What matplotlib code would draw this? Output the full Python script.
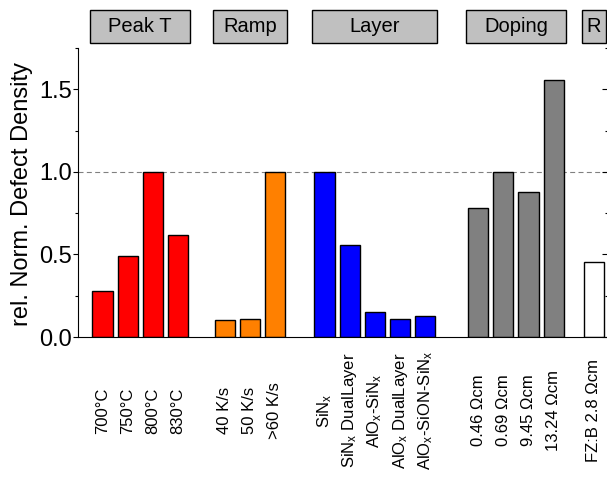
import matplotlib
matplotlib.use("Agg")
import matplotlib.pyplot as plt
from matplotlib.patches import Rectangle
from matplotlib.ticker import MultipleLocator
import matplotlib.transforms as mtransforms
import numpy as np

plt.rcParams['font.family'] = ['Liberation Sans', 'DejaVu Sans']
plt.rcParams['mathtext.fontset'] = 'custom'
plt.rcParams['mathtext.rm'] = 'Liberation Sans'

# groups of samples, one colour per group
group_names = ['Peak T', 'Ramp', 'Layer', 'Doping', 'R']

peak_labels = ['700°C', '750°C', '800°C', '830°C']
peak_vals = [0.28, 0.49, 1.0, 0.62]

ramp_labels = ['40 K/s', '50 K/s', '>60 K/s']
ramp_vals = [0.10, 0.11, 1.0]

layer_labels = [r'SiN$\mathregular{_x}$',
                r'SiN$\mathregular{_x}$ DualLayer',
                r'AlO$\mathregular{_x}$-SiN$\mathregular{_x}$',
                r'AlO$\mathregular{_x}$ DualLayer',
                r'AlO$\mathregular{_x}$-SiON-SiN$\mathregular{_x}$']
layer_vals = [1.0, 0.557, 0.15, 0.107, 0.127]

doping_labels = ['0.46 Ωcm', '0.69 Ωcm', '9.45 Ωcm', '13.24 Ωcm']
doping_vals = [0.78, 1.0, 0.878, 1.555]

ref_labels = ['FZ:B 2.8 Ωcm']
ref_vals = [0.457]

all_labels = [peak_labels, ramp_labels, layer_labels, doping_labels, ref_labels]
all_vals = [peak_vals, ramp_vals, layer_vals, doping_vals, ref_vals]
colors = ['#ff0000', '#ff8000', '#0000ff', '#808080', '#ffffff']
group_start = [0, 4.85, 8.82, 14.92, 19.51]
bar_w = 0.8

fig = plt.figure(figsize=(6.07, 4.79), dpi=100)
ax = fig.add_axes([78 / 607, 142 / 479, 531 / 607, 289 / 479])

ax.axhline(1.0, color='#808080', lw=0.8, ls=(0, (4.5, 3)), zorder=1)

ticks, ticklabels = [], []
trans = mtransforms.blended_transform_factory(ax.transData, ax.transAxes)
for name, labs, vals, col, x0 in zip(group_names, all_labels, all_vals, colors, group_start):
    x = x0 + np.arange(len(vals))
    ax.bar(x, vals, width=bar_w, color=col, edgecolor='black', lw=1.0, zorder=2)
    ticks.extend(x)
    ticklabels.extend(labs)
    # header box over each group
    left = x[0] - bar_w / 2 - 0.08
    right = x[-1] + bar_w / 2 + 0.08
    ax.add_patch(Rectangle((left, 1.017), right - left, 0.114, transform=trans,
                           facecolor='#c0c0c0', edgecolor='black', lw=1.0,
                           clip_on=False, zorder=3))
    ax.text((left + right) / 2, 1.074, name, transform=trans, ha='center',
            va='center', fontsize=14.5, clip_on=False, zorder=4)

ax.set_xlim(-0.973, 20.12)
ax.set_ylim(0, 1.75)
ax.set_xticks(ticks)
ax.set_xticklabels(ticklabels, rotation=90, fontsize=12)
for lab in ax.get_xticklabels():
    lab.set_va('center')
    lab.set_ha('center')
ax.tick_params(axis='x', length=0, pad=53)

ax.yaxis.set_major_locator(MultipleLocator(0.5))
ax.yaxis.set_minor_locator(MultipleLocator(0.25))
ax.set_yticks([0, 0.5, 1.0, 1.5])
ax.set_yticklabels(['0.0', '0.5', '1.0', '1.5'])
ax.tick_params(axis='y', which='major', direction='out', length=3.6, width=0.8,
               labelsize=17, pad=1)
ax.tick_params(axis='y', which='minor', direction='out', length=2.2, width=0.8)

for side in ['top', 'right']:
    ax.spines[side].set_visible(False)
ax.spines['left'].set_linewidth(0.8)
ax.spines['bottom'].set_linewidth(0.8)

# inward ticks on the right-hand axis
ax2 = ax.twinx()
ax2.set_ylim(0, 1.75)
ax2.yaxis.set_major_locator(MultipleLocator(0.5))
ax2.yaxis.set_minor_locator(MultipleLocator(0.25))
ax2.tick_params(axis='y', which='major', direction='in', length=5, width=0.8,
                labelright=False)
ax2.tick_params(axis='y', which='minor', direction='in', length=3, width=0.8)
for side in ['top', 'left', 'bottom']:
    ax2.spines[side].set_visible(False)

fig.text(22.5 / 607, 1 - 193.5 / 479, 'rel. Norm. Defect Density', rotation=90,
         ha='center', va='center', fontsize=17)

fig.savefig('out.png', dpi=100)
